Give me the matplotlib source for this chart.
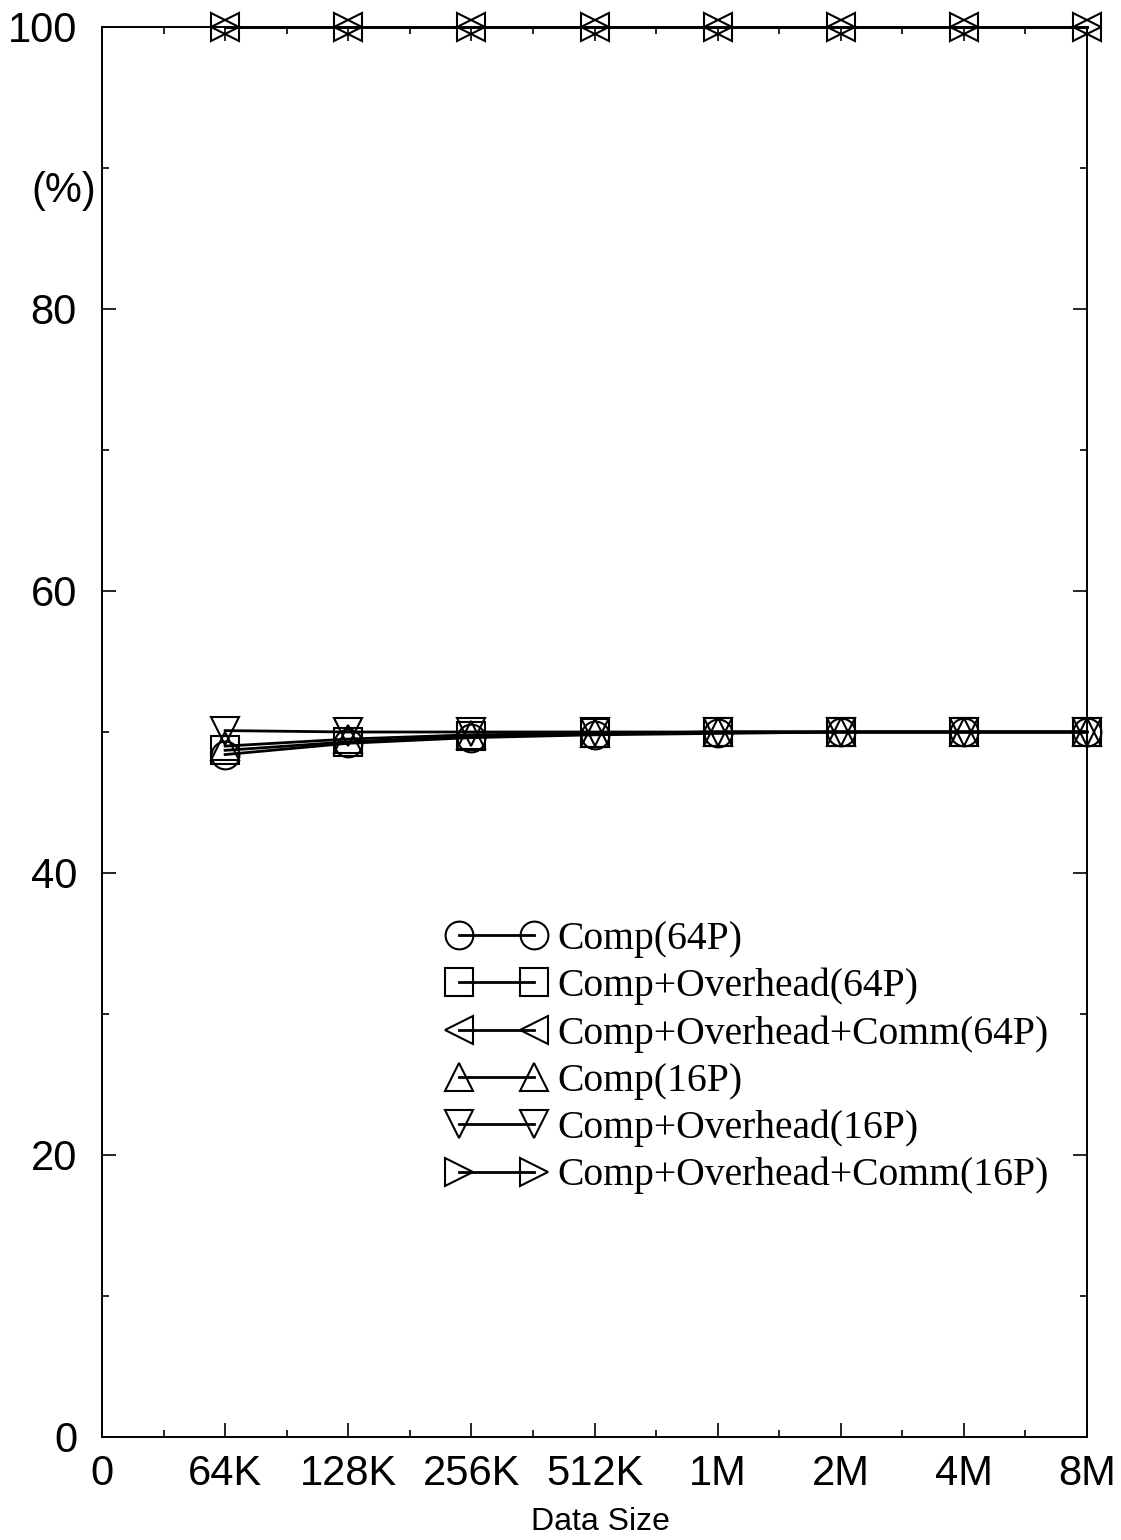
import matplotlib
matplotlib.use("Agg")
import matplotlib.pyplot as plt
from matplotlib.ticker import MultipleLocator, FixedLocator
import matplotlib.transforms as mtransforms

# ---- data ----
x_labels = ['0', '64K', '128K', '256K', '512K', '1M', '2M', '4M', '8M']
sizes = ['64K', '128K', '256K', '512K', '1M', '2M', '4M', '8M']

comp_64 = [48.4, 49.2, 49.6, 49.8, 49.9, 50.0, 50.0, 50.0]
comp_ovh_64 = [48.7, 49.3, 49.7, 49.9, 50.0, 50.0, 50.0, 50.0]
comp_ovh_comm_64 = [100, 100, 100, 100, 100, 100, 100, 100]
comp_16 = [49.0, 49.5, 49.8, 49.9, 50.0, 50.0, 50.0, 50.0]
comp_ovh_16 = [50.1, 50.0, 50.0, 50.0, 50.0, 50.0, 50.0, 50.0]
comp_ovh_comm_16 = [100, 100, 100, 100, 100, 100, 100, 100]

series = [
    ("Comp(64P)", comp_64, 'o'),
    ("Comp+Overhead(64P)", comp_ovh_64, 's'),
    ("Comp+Overhead+Comm(64P)", comp_ovh_comm_64, '<'),
    ("Comp(16P)", comp_16, '^'),
    ("Comp+Overhead(16P)", comp_ovh_16, 'v'),
    ("Comp+Overhead+Comm(16P)", comp_ovh_comm_16, '>'),
]

W, H = 1121, 1540
fig = plt.figure(figsize=(W / 100, H / 100), dpi=100)
ax = fig.add_axes([102 / W, 1 - 1437 / H, (1087 - 102) / W, (1437 - 27) / H])

xpos = list(range(1, len(sizes) + 1))
for label, vals, mk in series:
    ax.plot(xpos, vals, color='black', linewidth=2.0, marker=mk,
            markersize=20, markerfacecolor='none', markeredgecolor='black',
            markeredgewidth=1.5, label=label, clip_on=False)

ax.set_xlim(0, 8)
ax.set_ylim(0, 100)

ax.xaxis.set_major_locator(FixedLocator(range(len(x_labels))))
ax.set_xticklabels(x_labels)
ax.xaxis.set_minor_locator(MultipleLocator(0.5))
ax.yaxis.set_major_locator(MultipleLocator(20))
ax.yaxis.set_minor_locator(MultipleLocator(10))

sans = ['Liberation Sans', 'DejaVu Sans']
for lab in ax.get_xticklabels() + ax.get_yticklabels():
    lab.set_fontfamily(sans)
    lab.set_fontsize(30)

ax.tick_params(axis='both', which='both', direction='in', top=True, right=True,
               width=1.2, color='black')
ax.tick_params(axis='both', which='major', length=10)
ax.tick_params(axis='both', which='minor', length=5)
ax.tick_params(axis='x', which='major', pad=12)
ax.tick_params(axis='y', which='major', pad=18)

for sp in ax.spines.values():
    sp.set_linewidth(1.4)
    sp.set_color('black')

trans = mtransforms.blended_transform_factory(ax.transAxes, ax.transData)
ax.text(-0.006, 88.4, '(%)', transform=trans, ha='right', va='center',
        fontsize=30, family=sans)

fig.text(600 / W, 1 - 1522 / H, 'Data Size', ha='center', va='center',
         fontsize=23, family=sans)

leg = ax.legend(loc='upper left', bbox_to_anchor=(0.35, 0.366), frameon=False,
                numpoints=2, handlelength=2.5, handletextpad=0.3,
                labelspacing=0.25, borderpad=0, borderaxespad=0,
                prop={'family': ['Liberation Serif', 'DejaVu Serif'], 'size': 28.5})

fig.savefig('out.png', dpi=100)
